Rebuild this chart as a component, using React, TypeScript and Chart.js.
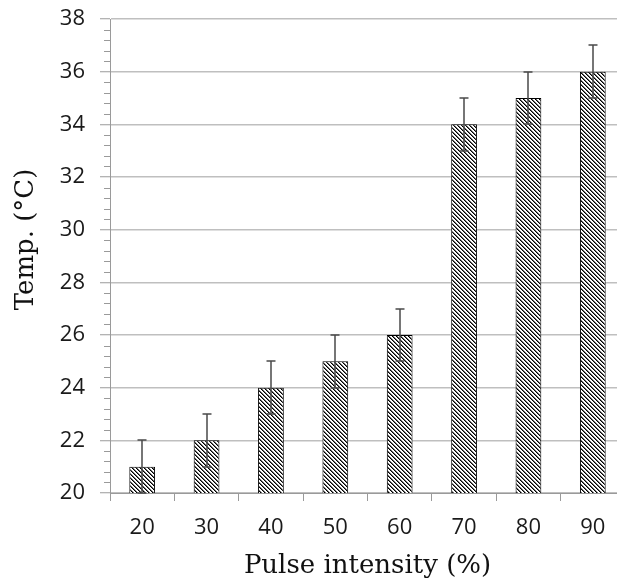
import React, { useEffect, useRef } from "react";
import { Chart, registerables } from "chart.js";

Chart.register(...registerables);

// ---- data ----
const categories = ["20", "30", "40", "50", "60", "70", "80", "90"];
const temps = [21, 22, 24, 25, 26, 34, 35, 36];
const errors = [1, 1, 1, 1, 1, 1, 1, 1];
const yMin = 20;
const yMax = 38;
const yStep = 2;
const yMinorStep = 0.4;
const xTitle = "Pulse intensity (%)";
const yTitle = "Temp. (°C)";

// ---- styles ----
const GRID = "#bfbfbf";
const AXIS = "#9a9a9a";
const TICK_FONT = "'Open Sans', 'DejaVu Sans', sans-serif";
const TITLE_FONT = "'DejaVu Serif', 'Liberation Serif', serif";

function makeHatch(): CanvasPattern | string {
  const n = 8;
  const c = document.createElement("canvas");
  c.width = n;
  c.height = n;
  const ctx = c.getContext("2d");
  if (!ctx) return "#888";
  ctx.fillStyle = "#ffffff";
  ctx.fillRect(0, 0, n, n);
  for (let y = 0; y < n; y++) {
    for (let x = 0; x < n; x++) {
      const m = (((x - y) % 4) + 4) % 4;
      if (m === 0) {
        ctx.fillStyle = "#000000";
        ctx.fillRect(x, y, 1, 1);
      } else if (m === 1) {
        ctx.fillStyle = "#6a6a6a";
        ctx.fillRect(x, y, 1, 1);
      }
    }
  }
  return ctx.createPattern(c, "repeat") || "#888";
}

const errorBarPlugin = {
  id: "errorBars",
  afterDatasetsDraw(chart: any) {
    const { ctx, scales } = chart;
    const y = scales.y;
    const meta = chart.getDatasetMeta(0);
    ctx.save();
    ctx.strokeStyle = "#4a4a4a";
    ctx.lineWidth = 1.5;
    meta.data.forEach((bar: any, i: number) => {
      const cx = Math.round(bar.x);
      const top = Math.round(y.getPixelForValue(temps[i] + errors[i]));
      const bot = Math.round(y.getPixelForValue(temps[i] - errors[i]));
      const cap = 4.5;
      ctx.beginPath();
      ctx.moveTo(cx, top);
      ctx.lineTo(cx, bot);
      ctx.moveTo(cx - cap, top);
      ctx.lineTo(cx + cap, top);
      ctx.moveTo(cx - cap, bot);
      ctx.lineTo(cx + cap, bot);
      ctx.stroke();
    });
    ctx.restore();
  },
};

const minorTickPlugin = {
  id: "minorTicks",
  afterDraw(chart: any) {
    const { ctx, scales, chartArea } = chart;
    const y = scales.y;
    ctx.save();
    ctx.strokeStyle = AXIS;
    ctx.lineWidth = 1;
    ctx.beginPath();
    for (let k = 0; ; k++) {
      const v = yMin + k * yMinorStep;
      if (v > yMax + 1e-9) break;
      const r = v / yStep;
      if (Math.abs(r - Math.round(r)) < 1e-6) continue;
      const py = Math.round(y.getPixelForValue(v)) + 0.5;
      ctx.moveTo(chartArea.left - 6, py);
      ctx.lineTo(chartArea.left, py);
    }
    ctx.stroke();
    ctx.restore();
  },
};

export default function App() {
  const ref = useRef<HTMLCanvasElement | null>(null);

  useEffect(() => {
    if (!ref.current) return;
    const hatch = makeHatch();
    const chart = new Chart(ref.current, {
      type: "bar",
      data: {
        labels: categories,
        datasets: [
          {
            data: temps,
            backgroundColor: hatch as any,
            borderColor: "#000000",
            borderWidth: 1,
            borderSkipped: false,
            barPercentage: 0.4,
            categoryPercentage: 1,
          },
        ],
      },
      options: {
        animation: false,
        responsive: false,
        layout: { padding: { top: 19, left: 0, right: 0, bottom: 0 } },
        plugins: {
          legend: { display: false },
          tooltip: { enabled: false },
        },
        scales: {
          x: {
            type: "category",
            offset: true,
            grid: {
              offset: true,
              drawOnChartArea: false,
              drawTicks: true,
              tickLength: 8,
              color: AXIS,
              lineWidth: 1,
            },
            border: { display: true, color: AXIS, width: 1 },
            ticks: {
              font: { family: TICK_FONT, size: 22 },
              color: "#1a1a1a",
              padding: 14,
              maxRotation: 0,
              autoSkip: false,
            },
            title: {
              display: true,
              text: xTitle,
              font: { family: TITLE_FONT, size: 26 },
              color: "#111111",
              padding: { top: 0, bottom: 2 },
            },
            afterFit: (s: any) => {
              s.height = 91;
              s.paddingLeft = 0;
              s.paddingRight = 0;
            },
          },
          y: {
            min: yMin,
            max: yMax,
            ticks: {
              stepSize: yStep,
              font: { family: TICK_FONT, size: 22 },
              color: "#1a1a1a",
              padding: 15,
            },
            grid: {
              color: GRID,
              lineWidth: 1.5,
              tickLength: 10,
              tickColor: AXIS,
              tickWidth: 1,
            },
            border: { display: true, color: AXIS, width: 1 },
            title: {
              display: true,
              text: "    " + yTitle,
              font: { family: TITLE_FONT, size: 26 },
              color: "#111111",
              padding: { top: 11, bottom: 0 },
            },
            afterFit: (s: any) => {
              s.width = 110;
              s.paddingTop = 0;
              s.paddingBottom = 0;
            },
          },
        },
      },
      plugins: [errorBarPlugin, minorTickPlugin],
    } as any);
    return () => chart.destroy();
  }, []);

  return (
    <div
      style={{
        position: "fixed",
        left: 0,
        top: 0,
        width: 617,
        height: 584,
        overflow: "hidden",
        background: "#ffffff",
      }}
    >
      <canvas ref={ref} width={625} height={584} style={{ display: "block" }} />
    </div>
  );
}
